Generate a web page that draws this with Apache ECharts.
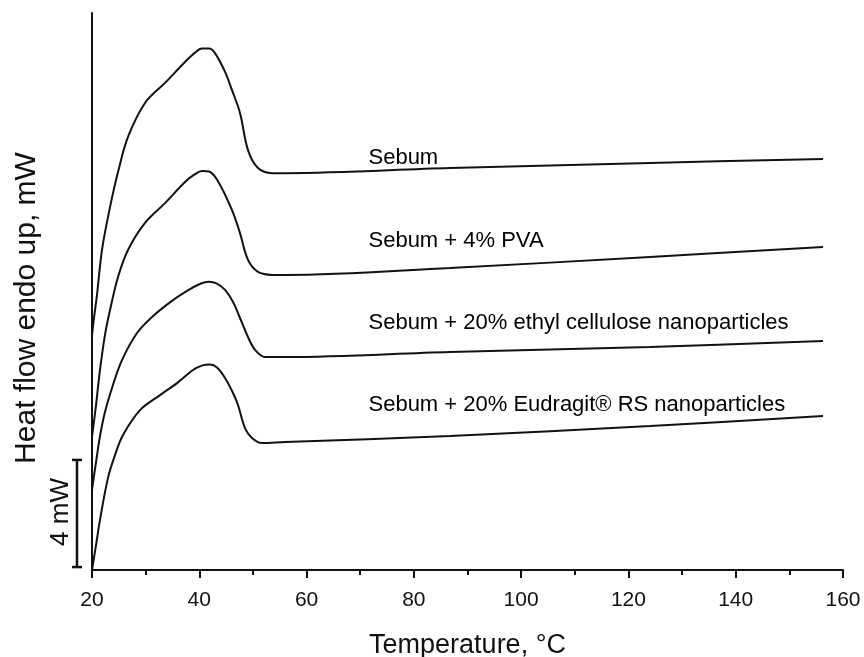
<!DOCTYPE html>
<html><head><meta charset="utf-8">
<script src="https://cdn.jsdelivr.net/npm/echarts@6/dist/echarts.min.js"></script>
<style>html,body{margin:0;padding:0;background:#fff}#c{width:864px;height:657px}</style>
</head><body><div id="c"></div>
<script>
// Temperature (°C) and heat flow (mW, offset curves)
const xTicks = [20, 40, 60, 80, 100, 120, 140, 160];

const sebumT  = [20.0, 20.37, 20.93, 21.86, 23.36, 24.85, 26.71, 29.88, 33.61, 37.34, 39.2, 40.5, 41.8, 42.93, 44.80, 46.10, 47.59, 49.08, 50.95, 53.56, 55.98, 86.74, 124.03, 156.28];
const sebumHF = [8.78, 9.41, 10.27, 11.95, 13.55, 14.86, 16.17, 17.44, 18.19, 18.97, 19.32, 19.47, 19.47, 19.30, 18.60, 17.92, 17.07, 15.68, 15.01, 14.82, 14.82, 15.01, 15.20, 15.35];

const pvaT  = [20.0, 20.75, 21.49, 22.42, 23.36, 24.85, 26.71, 29.88, 33.61, 37.34, 39.2, 40.5, 41.8, 43.49, 46.10, 47.59, 49.08, 50.95, 53.56, 55.98, 86.74, 124.03, 156.28];
const pvaHF = [4.97, 6.16, 7.47, 8.78, 9.71, 10.94, 11.95, 12.96, 13.70, 14.49, 14.78, 14.90, 14.88, 14.52, 13.44, 12.58, 11.58, 11.13, 11.02, 11.02, 11.28, 11.69, 12.06];

const ethylT  = [20.0, 20.75, 21.49, 22.42, 23.91, 25.59, 28.39, 31.19, 35.10, 38.27, 40.3, 41.8, 43.2, 44.80, 46.29, 47.59, 49.08, 50.39, 52.25, 55.98, 86.74, 124.03, 156.28];
const ethylHF = [2.99, 4.03, 5.00, 5.90, 6.91, 7.84, 8.85, 9.45, 10.08, 10.49, 10.70, 10.76, 10.70, 10.46, 10.01, 9.41, 8.70, 8.22, 7.95, 7.95, 8.14, 8.33, 8.55];

const eudT  = [20.0, 20.75, 21.49, 22.98, 24.29, 25.78, 28.95, 32.68, 35.85, 38.83, 40.6, 42.0, 43.30, 44.80, 46.29, 47.22, 48.52, 49.83, 51.69, 55.98, 86.74, 124.03, 156.28];
const eudHF = [0.00, 0.93, 1.87, 3.44, 4.29, 5.04, 5.97, 6.53, 6.98, 7.47, 7.64, 7.67, 7.56, 7.17, 6.61, 6.16, 5.30, 4.93, 4.74, 4.78, 5.00, 5.38, 5.75];

const seriesNames = ['Sebum', 'Sebum + 4% PVA', 'Sebum + 20% ethyl cellulose nanoparticles', 'Sebum + 20% Eudragit® RS nanoparticles'];
const labelT  = [71.45, 71.45, 71.45, 71.45];
const labelHF = [15.39, 12.29, 9.23, 6.16];

// 4 mW scale bar (cap left, cap right, bar position; bottom, top)
const scaleBarT = [16.27, 18.14, 17.20];
const scaleBarHF = [0.11, 4.11];
const scaleBarText = '4 mW';

const FONT = 'Arial, "Liberation Sans", sans-serif';
const zip = (a, b) => a.map((v, i) => [v, b[i]]);

const curves = [
  zip(sebumT, sebumHF),
  zip(pvaT, pvaHF),
  zip(ethylT, ethylHF),
  zip(eudT, eudHF)
];

const chart = echarts.init(document.getElementById('c'), null, {renderer: 'canvas'});

const series = curves.map((d, i) => ({
  name: seriesNames[i],
  type: 'line',
  data: d,
  smooth: 0.35,
  showSymbol: false,
  symbol: 'none',
  lineStyle: {color: '#111', width: 2},
  silent: true
}));

series.push({
  type: 'scatter',
  data: labelT.map((t, i) => [t, labelHF[i], seriesNames[i]]),
  symbolSize: 1,
  itemStyle: {color: 'rgba(0,0,0,0)', opacity: 1},
  label: {
    show: true, position: 'right', distance: 0,
    formatter: p => p.value[2],
    color: '#000', fontSize: 22, fontFamily: FONT, opacity: 1
  },
  silent: true
});

const baseGraphics = [
  {id: 'ytitle', type: 'text', x: 27, y: 308, rotation: Math.PI / 2,
    style: {text: 'Heat flow endo up, mW', fontSize: 30, fontFamily: FONT, fill: '#111',
      align: 'center', verticalAlign: 'middle'}},
  {id: 'bartext', type: 'text', x: 61, y: 512, rotation: Math.PI / 2,
    style: {text: scaleBarText, fontSize: 26, fontFamily: FONT, fill: '#111',
      align: 'center', verticalAlign: 'middle'}}
];

chart.setOption({
  animation: false,
  backgroundColor: '#fff',
  grid: {left: 92, right: 21, top: 13, bottom: 87, containLabel: false, outerBoundsMode: 'none'},
  xAxis: {
    type: 'value', min: 20, max: 160, interval: 20,
    name: 'Temperature, °C', nameLocation: 'middle', nameGap: 62,
    nameTextStyle: {color: '#111', fontSize: 27, fontFamily: FONT},
    axisLine: {lineStyle: {color: '#111', width: 2}},
    axisTick: {inside: false, length: 8, lineStyle: {color: '#111', width: 2}},
    minorTick: {show: true, splitNumber: 2, length: 5, lineStyle: {color: '#111', width: 2}},
    axisLabel: {color: '#111', fontSize: 21, fontFamily: FONT, margin: 20,
      formatter: v => (xTicks.indexOf(v) >= 0 ? String(v) : '')},
    splitLine: {show: false}
  },
  yAxis: {
    type: 'value', min: 0, max: 20.8,
    axisLine: {show: true, lineStyle: {color: '#111', width: 2}},
    axisTick: {show: false},
    axisLabel: {show: false},
    splitLine: {show: false}
  },
  graphic: baseGraphics,
  series: series
});

// Scale bar drawn through the chart's own coordinate conversion
const px = (t, h) => chart.convertToPixel({gridIndex: 0}, [t, h]);
const bx0 = scaleBarT[0], bx1 = scaleBarT[1], bxm = scaleBarT[2];
const by0 = scaleBarHF[0], by1 = scaleBarHF[1];
const barStyle = {stroke: '#111', lineWidth: 2.5, fill: null};
chart.setOption({
  graphic: baseGraphics.concat([
    {id: 'barV', type: 'polyline', shape: {points: [px(bxm, by0), px(bxm, by1)]}, style: barStyle},
    {id: 'barT', type: 'polyline', shape: {points: [px(bx0, by1), px(bx1, by1)]}, style: barStyle},
    {id: 'barB', type: 'polyline', shape: {points: [px(bx0, by0), px(bx1, by0)]}, style: barStyle}
  ])
});
</script>
</body></html>
